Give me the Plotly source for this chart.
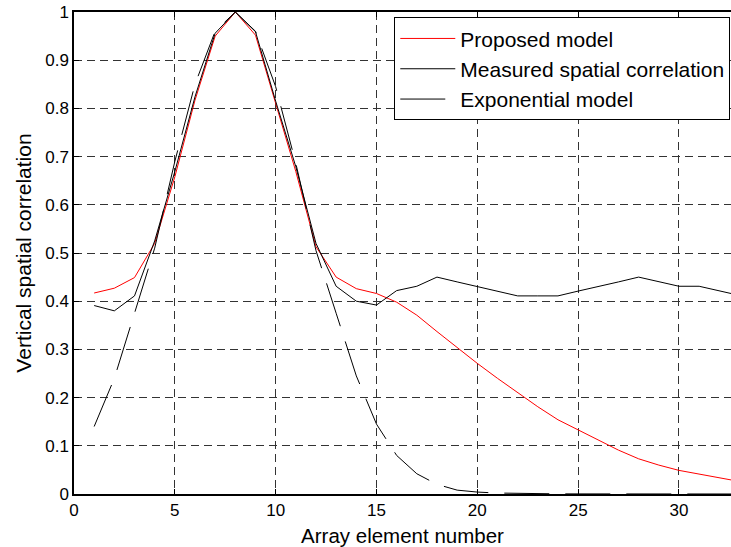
import plotly.graph_objects as go

element = list(range(1, 34))

proposed = [0.417, 0.427, 0.449, 0.52, 0.658, 0.817, 0.950, 1.0, 0.952, 0.81,
            0.669, 0.513, 0.45, 0.426, 0.416, 0.398, 0.371, 0.337, 0.304, 0.271,
            0.240, 0.210, 0.181, 0.154, 0.133, 0.112, 0.091, 0.073, 0.060, 0.049,
            0.041, 0.033, 0.026]

measured = [0.391, 0.380, 0.411, 0.525, 0.669, 0.824, 0.956, 1.0, 0.959, 0.815,
            0.679, 0.52, 0.431, 0.40, 0.392, 0.422, 0.431, 0.45, 0.440, 0.430,
            0.421, 0.411, 0.411, 0.411, 0.421, 0.430, 0.440, 0.450, 0.440, 0.431,
            0.431, 0.422, 0.412]

exponential = [0.14, 0.24, 0.375, 0.51, 0.69, 0.85, 0.96, 1.0, 0.96, 0.845,
               0.686, 0.505, 0.375, 0.245, 0.145, 0.08, 0.042, 0.02, 0.008, 0.004,
               0.002, 0.001, 0.0005, 0.0003, 0.0002, 0.0001, 0.0001, 0.0, 0.0, 0.0,
               0.0, 0.0, 0.0]

x_ticks = [0, 5, 10, 15, 20, 25, 30]
y_ticks = [0, 0.1, 0.2, 0.3, 0.4, 0.5, 0.6, 0.7, 0.8, 0.9, 1]
y_tick_labels = ["0", "0.1", "0.2", "0.3", "0.4", "0.5", "0.6", "0.7", "0.8", "0.9", "1"]

FONT = "Liberation Sans, Arial, Helvetica, sans-serif"

fig = go.Figure()
fig.add_trace(go.Scatter(x=element, y=proposed, mode="lines", name="Proposed model",
                         line=dict(color="#ff0000", width=1)))
fig.add_trace(go.Scatter(x=element, y=measured, mode="lines", name="Measured spatial correlation",
                         line=dict(color="#000000", width=1)))
fig.add_trace(go.Scatter(x=element, y=exponential, mode="lines", name="Exponential model",
                         line=dict(color="#000000", width=1, dash="45px,16px")))

fig.update_layout(
    width=731, height=547,
    margin=dict(l=74, r=0, t=12, b=53, autoexpand=False),
    paper_bgcolor="white", plot_bgcolor="white",
    font=dict(family=FONT, color="black", size=17),
    showlegend=True,
    legend=dict(x=0.4875, y=0.989, xanchor="left", yanchor="top",
                bgcolor="white", bordercolor="black", borderwidth=1,
                font=dict(size=21, family=FONT), tracegroupgap=0, itemwidth=55),
)

fig.update_xaxes(
    range=[0, 32.58], tickvals=x_ticks, ticktext=[str(v) for v in x_ticks],
    showline=True, linecolor="black", linewidth=1.5, mirror="ticks",
    ticks="inside", ticklen=5, tickcolor="black",
    showgrid=True, gridcolor="#333333", griddash="8px,5px", gridwidth=1,
    zeroline=False, tickfont=dict(size=17), automargin=False,
    title=dict(text="Array element number", font=dict(size=20.5), standoff=10),
)
fig.update_yaxes(
    range=[0, 1], tickvals=y_ticks, ticktext=y_tick_labels,
    showline=True, linecolor="black", linewidth=1.5, mirror=False,
    ticks="inside", ticklen=5, tickcolor="black",
    showgrid=True, gridcolor="#333333", griddash="8px,5px", gridwidth=1,
    zeroline=False, tickfont=dict(size=17), automargin=False,
    title=dict(text="Vertical spatial correlation", font=dict(size=21), standoff=8),
)

fig.write_html("out.html", config={"displayModeBar": False},
               post_script="document.body.style.margin='0';")
